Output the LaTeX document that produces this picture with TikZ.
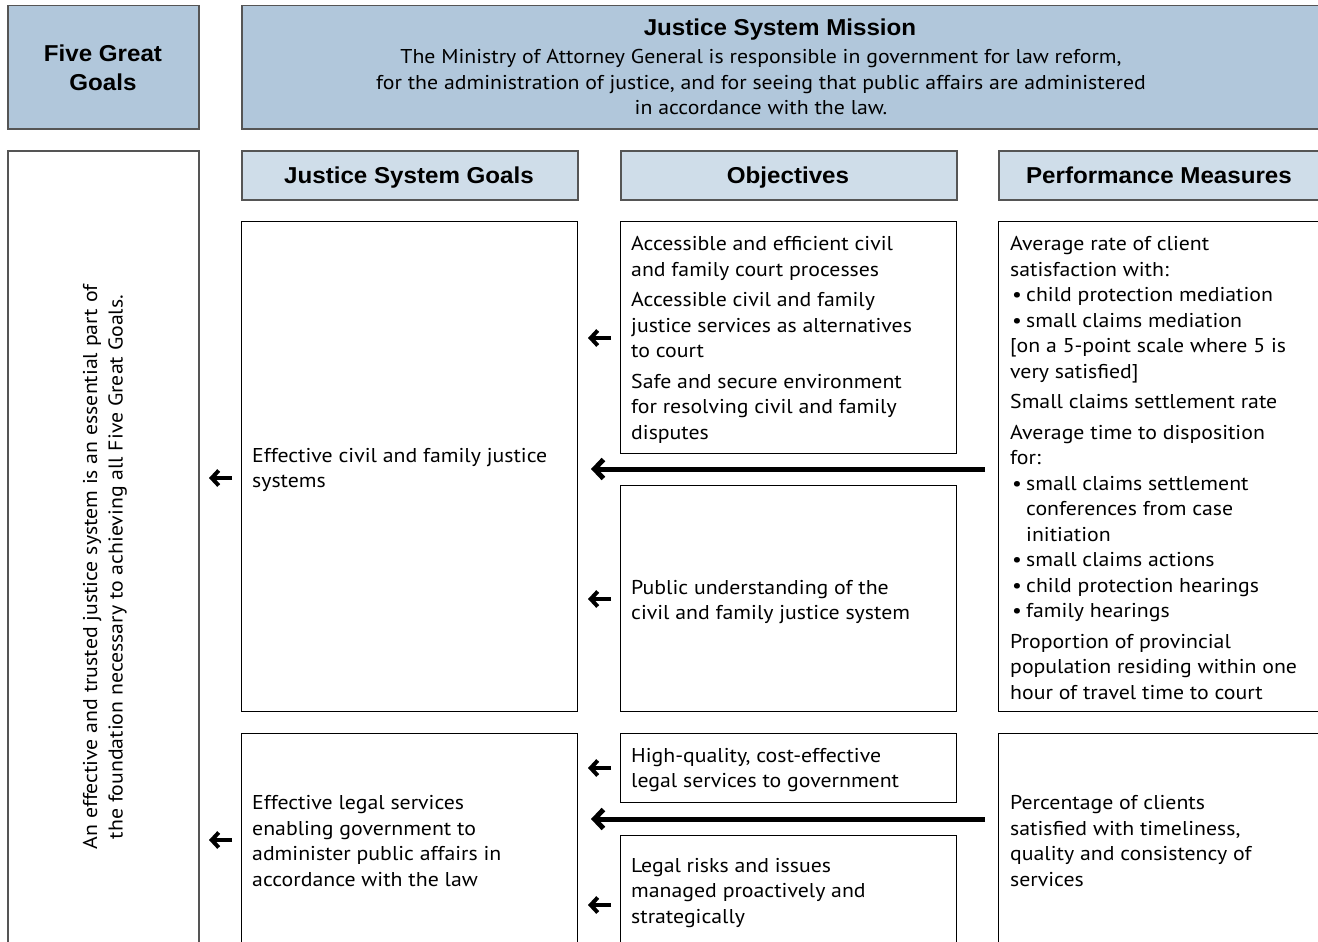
\documentclass[tikz,border=0pt]{standalone}
\usepackage{fontspec}
\setmainfont{PT Sans}[FakeStretch=1.09]
\newfontfamily\headfont{Liberation Sans}[FakeStretch=1.05]
\usetikzlibrary{arrows.meta}
\definecolor{darkblue}{HTML}{B1C7DB}
\definecolor{lightblue}{HTML}{CFDDE9}
\definecolor{edgegray}{HTML}{555555}
\newcommand\bul{\makebox[16pt][l]{\hspace{2pt}•}}
\newcommand\ind{\hspace*{16pt}}
\begin{document}
\begin{tikzpicture}[x=1pt,y=-1pt,
  bluebox/.style={draw=edgegray,line width=1.5pt,fill=darkblue,anchor=north west,inner sep=0pt},
  headbox/.style={draw=edgegray,line width=1.5pt,fill=lightblue,anchor=north west,inner sep=0pt},
  whitebox/.style={draw=black,line width=1.2pt,fill=white,anchor=north west,inner sep=0pt},
  graybox/.style={draw=edgegray,line width=1.5pt,fill=white,anchor=north west,inner sep=0pt},
  body/.style={font=\fontsize{20}{25.5}\selectfont,align=left,inner sep=0pt},
  headtxt/.style={font=\headfont\bfseries\fontsize{23}{29}\selectfont,align=center,inner sep=0pt},
  smallarrow/.style={line width=4pt,-{Straight Barb[length=7pt,width=15pt]}},
  longarrow/.style={line width=5pt,-{Straight Barb[length=9pt,width=19pt]}}
]
\clip (0,0) rectangle (1318,942);
\fill[white] (0,0) rectangle (1318,942);
% top row
\node[bluebox,minimum width=191pt,minimum height=123pt] (fgg) at (7,5) {};
\node[headtxt] (fggt) at (103,68) {Five Great\\Goals};
\node[bluebox,minimum width=1090pt,minimum height=123pt] (mis) at (241,5) {};
\node[headtxt,anchor=base] (mist) at (780,36) {Justice System Mission};
\node[body,align=center] (misb) at (761,82) {The Ministry of Attorney General is responsible in government for law reform,\\for the administration of justice, and for seeing that public affairs are administered\\in accordance with the law.};
% left tall box
\node[graybox,minimum width=191pt,minimum height=820pt] (left) at (7,150) {};
\node[body,align=center,rotate=90] (leftt) at (105,567) {An effective and trusted justice system is an essential part of\\the foundation necessary to achieving all Five Great Goals.};
% headers
\node[headbox,minimum width=336pt,minimum height=49pt] (h1) at (241,150) {};
\node[headtxt,anchor=base] at (409,183) {Justice System Goals};
\node[headbox,minimum width=336pt,minimum height=49pt] (h2) at (620,150) {};
\node[headtxt,anchor=base] at (788,183) {Objectives};
\node[headbox,minimum width=340pt,minimum height=49pt] (h3) at (998,150) {};
\node[headtxt,anchor=base] at (1159,183) {Performance Measures};
% goals
\node[whitebox,minimum width=336pt,minimum height=490pt] (g1) at (241,221) {};
\node[body,anchor=west] (g1t) at (252,470) {Effective civil and family justice\\systems};
\node[whitebox,minimum width=336pt,minimum height=240pt] (g2) at (241,733) {};
\node[body,anchor=west] (g2t) at (252,841) {Effective legal services\\enabling government to\\administer public affairs in\\accordance with the law};
% objectives
\node[whitebox,minimum width=336pt,minimum height=232pt] (o1) at (620,221) {};
\node[body,anchor=north west] (o1t) at (631,236.5) {Accessible and efficient civil\\and family court processes\\[5pt]Accessible civil and family\\justice services as alternatives\\to court\\[5pt]Safe and secure environment\\for resolving civil and family\\disputes};
\node[whitebox,minimum width=336pt,minimum height=226pt] (o2) at (620,485) {};
\node[body,anchor=west] (o2t) at (631,602) {Public understanding of the\\civil and family justice system};
\node[whitebox,minimum width=336pt,minimum height=69pt] (o3) at (620,733) {};
\node[body,anchor=west] (o3t) at (631,770) {High-quality, cost-effective\\legal services to government};
\node[whitebox,minimum width=336pt,minimum height=140pt] (o4) at (620,835) {};
\node[body,anchor=west] (o4t) at (631,893) {Legal risks and issues\\managed proactively and\\strategically};
% performance measures
\node[whitebox,minimum width=340pt,minimum height=490pt] (p1) at (998,221) {};
\node[body,anchor=north west] (p1t) at (1010,236.5) {Average rate of client\\satisfaction with:\\\bul child protection mediation\\\bul small claims mediation\\{[on} a 5-point scale where 5 is\\very satisfied]\\[5pt]Small claims settlement rate\\[5pt]Average time to disposition\\for:\\\bul small claims settlement\\\ind conferences from case\\\ind initiation\\\bul small claims actions\\\bul child protection hearings\\\bul family hearings\\[5pt]Proportion of provincial\\population residing within one\\hour of travel time to court};
\node[whitebox,minimum width=340pt,minimum height=240pt] (p2) at (998,733) {};
\node[body,anchor=west] (p2t) at (1010,841) {Percentage of clients\\satisfied with timeliness,\\quality and consistency of\\services};
% arrows
\coordinate (a1s) at (232,478); \coordinate (a1e) at (209,478);
\coordinate (a2s) at (232,840); \coordinate (a2e) at (209,840);
\coordinate (b1s) at (611,338); \coordinate (b1e) at (588,338);
\coordinate (b2s) at (611,599); \coordinate (b2e) at (588,599);
\coordinate (b3s) at (611,768); \coordinate (b3e) at (588,768);
\coordinate (b4s) at (611,905); \coordinate (b4e) at (588,905);
\coordinate (c1s) at (985,469); \coordinate (c1e) at (591,469);
\coordinate (c2s) at (985,819); \coordinate (c2e) at (591,819);
\foreach \s/\e in {a1s/a1e,a2s/a2e,b1s/b1e,b2s/b2e,b3s/b3e,b4s/b4e}
  \draw[smallarrow] (\s) -- (\e);
\draw[longarrow] (c1s) -- (c1e);
\draw[longarrow] (c2s) -- (c2e);
\end{tikzpicture}
\end{document}
